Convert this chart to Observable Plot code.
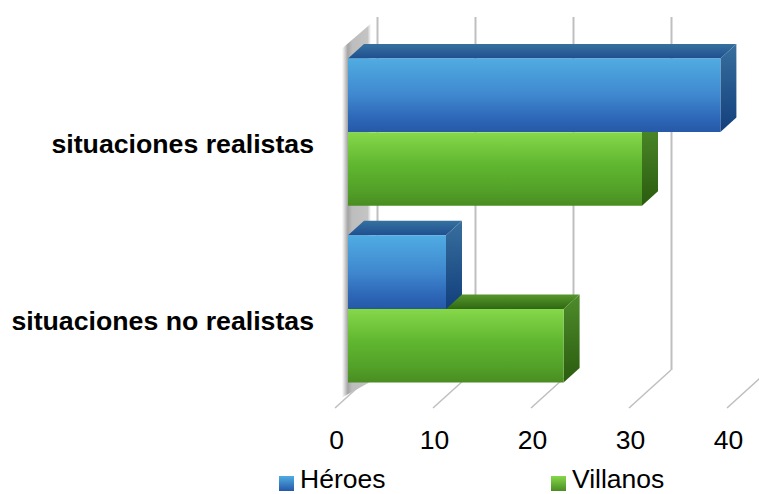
<!DOCTYPE html>
<html><head><meta charset="utf-8">
<script src="https://cdn.jsdelivr.net/npm/d3@7"></script>
<script src="https://cdn.jsdelivr.net/npm/@observablehq/plot@0.6"></script>
<style>
html,body{margin:0;padding:0;background:#fff;font-family:"Liberation Sans",Arial,sans-serif;}
#c{width:759px;height:494px;position:relative;overflow:hidden}
svg{display:block}
.sw{position:absolute;top:11px;width:15px;height:15px}
.lb{position:absolute;top:0.5px;font-size:26.5px;line-height:26px;color:#000}
#lg{position:relative;height:29px}
</style></head><body><div id="c"></div>
<script>
const categories = ["situaciones realistas", "situaciones no realistas"];
const seriesNames = ["Héroes", "Villanos"];
const heroes = [38, 10];
const villanos = [30, 22];
const ticks = [0, 10, 20, 30, 40];

const rows = (vals, s) => categories.map((c, i) => ({category: c, value: vals[i], series: s}));
const heroRows = rows(heroes, seriesNames[0]);
const villanRows = rows(villanos, seriesNames[1]);

const DX = 16, DY = 14.5;      // bar extrusion
const WALL = 29, FLOOR = 13;   // grid offsets

const NS = "http://www.w3.org/2000/svg";
function el(name, attrs, parent) {
  const e = document.createElementNS(NS, name);
  for (const k in attrs) e.setAttribute(k, attrs[k]);
  if (parent) parent.appendChild(e);
  return e;
}
function defs() {
  const d = el("defs", {});
  const grad = (id, stops, horiz) => {
    const g = el("linearGradient", horiz ? {id, x1:0,y1:0,x2:1,y2:0} : {id, x1:0,y1:0,x2:0,y2:1}, d);
    stops.forEach(([o, c]) => el("stop", {offset:o, "stop-color":c}, g));
  };
  grad("bFront", [[0,"#50ace2"],[.5,"#3f88cf"],[.8,"#2e68b8"],[1,"#2659a8"]]);
  grad("bTop", [[0,"#35719f"],[1,"#1f4f90"]]);
  grad("bSide", [[0,"#386f9e"],[1,"#123f7c"]]);
  grad("gFront", [[0,"#86d84a"],[.45,"#5fb62f"],[.8,"#52a028"],[1,"#4a8c22"]]);
  grad("gTop", [[0,"#57972b"],[1,"#2f6814"]]);
  grad("gSide", [[0,"#4f8c2b"],[1,"#2a5c0f"]]);
  grad("wall", [[0,"#ffffff"],[.2,"#a4a4a4"],[.35,"#bdbdbd"],[.88,"#c4c4c4"],[1,"#ffffff"]], true);
  return d;
}
const bandOf = s => typeof s.bandwidth === "function" ? s.bandwidth() : s.bandwidth;

function wallMark(_, {x, y}) {
  const g = el("g", {});
  const x0 = x(0), top = y(categories[0]), bot = y(categories[1]) + bandOf(y);
  el("path", {fill:"url(#wall)", d:`M${x0-6},${top-10}L${x0+23},${top-35}V${bot-1}L${x0-6},${bot+15}Z`}, g);
  return g;
}
function floorMark(_, {x, y}, __, dims) {
  const g = el("g", {stroke:"#bfbfbf", "stroke-width":1.5, fill:"none"});
  const yb = dims.height - dims.marginBottom;
  ticks.forEach(t => el("line", {x1:x(t)+WALL, y1:yb, x2:x(t)-FLOOR, y2:yb+38}, g));
  return g;
}
const faces = (data, half, top, side) => (_, {x, y}) => {
  const g = el("g", {});
  const b = bandOf(y) / 2;
  data.forEach(d => {
    const x0 = x(0), x1 = x(d.value), y0 = y(d.category) + half * b, y1 = y0 + b;
    el("path", {fill:`url(#${top})`, d:`M${x0},${y0}L${x0+DX},${y0-DY}H${x1+DX}L${x1},${y0}Z`}, g);
    el("path", {fill:`url(#${side})`, d:`M${x1},${y0}L${x1+DX},${y0-DY}V${y1-DY}L${x1},${y1}Z`}, g);
  });
  return g;
};

const chart = Plot.plot({
  width: 759, height: 465,
  marginTop: 17, marginBottom: 95, marginLeft: 348, marginRight: 19,
  style: {fontFamily: '"Liberation Sans",Arial,sans-serif', background: "#fff", overflow: "visible"},
  x: {domain: [0, 40], range: [348, 740]},
  y: {domain: categories, range: [58.5, 382.5], paddingInner: 0.167, paddingOuter: 0, round: false},
  marks: [
    defs,
    wallMark,
    Plot.ruleX(ticks, {x: d => d, dx: WALL, stroke: "#bfbfbf", strokeWidth: 2}),
    floorMark,
    faces(villanRows, 1, "gTop", "gSide"),
    Plot.barX(villanRows, {x: "value", y: "category", fill: "url(#gFront)", insetTop: 73.75}),
    faces(heroRows, 0, "bTop", "bSide"),
    Plot.barX(heroRows, {x: "value", y: "category", fill: "url(#bFront)", insetBottom: 73.75}),
    Plot.axisX({ticks, tickSize: 0, tickPadding: 60, dx: -12, fontSize: 26.5, fill: "#000", label: null, anchor: "bottom"}),
    Plot.axisY({tickSize: 0, tickPadding: 34.5, dy: 12, fontSize: 26.7, fontWeight: "bold", fill: "#000", label: null, anchor: "left"})
  ]
});
const c = document.getElementById("c");
c.appendChild(chart);
const lg = document.createElement("div");
lg.id = "lg";
[[279, 300, "linear-gradient(#50ace2,#2659a8)"], [551, 572, "linear-gradient(#86d84a,#4a8c22)"]].forEach(([sx, tx, bg], i) => {
  const s = document.createElement("div"); s.className = "sw"; s.style.left = sx + "px"; s.style.background = bg; lg.appendChild(s);
  const t = document.createElement("div"); t.className = "lb"; t.style.left = tx + "px"; t.textContent = seriesNames[i]; lg.appendChild(t);
});
c.appendChild(lg);
</script></body></html>
